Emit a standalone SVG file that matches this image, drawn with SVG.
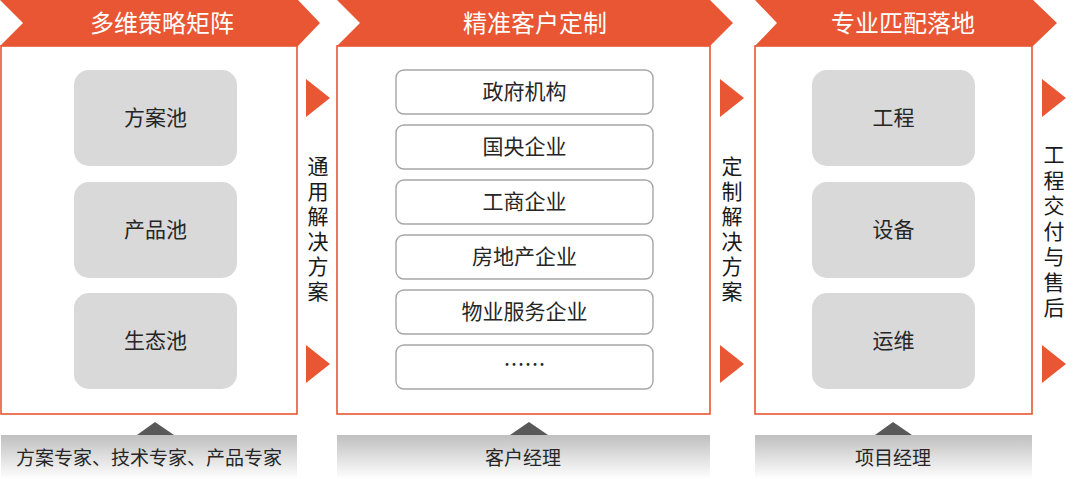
<svg xmlns="http://www.w3.org/2000/svg" width="1080" height="479" viewBox="0 0 1080 479">
<defs>
<linearGradient id="g" x1="0" y1="0" x2="0" y2="1">
<stop offset="0" stop-color="#bfbfbf"/>
<stop offset="1" stop-color="#ffffff"/>
</linearGradient>
<style>
.ban{fill:#E95633}
.box{fill:#fff;stroke:#E95633;stroke-width:1.6}
.gb{fill:#d9d9d9}
.lb{fill:#fff;stroke:#a6a6a6;stroke-width:1.4}
.tri{fill:#E95633}
.up{fill:#595959}
.bar{fill:url(#g)}
text{font-family:"Noto Sans CJK SC","Liberation Sans",sans-serif;text-anchor:middle;dominant-baseline:central}
.t{fill:#fff;font-size:24px}
.n{fill:#262626;font-size:21px}
.v{fill:#1a1a1a;font-size:21px;writing-mode:vertical-rl}
.b{fill:#262626;font-size:19px}
</style>
</defs>
<g id="col1">
<polygon class="ban" points="0,0 298,0 320,23 298,46 0,46 23,23"/>
<text class="t" x="162" y="21">多维策略矩阵</text>
<rect class="box" x="1" y="46" width="296" height="368"/>
</g>
<g id="col2">
<polygon class="ban" points="337,0 710,0 733,23 710,46 337,46 360,23"/>
<text class="t" x="535" y="21">精准客户定制</text>
<rect class="box" x="337" y="46" width="373" height="368"/>
</g>
<g id="col3">
<polygon class="ban" points="755,0 1033,0 1057,23 1033,46 755,46 777,23"/>
<text class="t" x="903" y="21">专业匹配落地</text>
<rect class="box" x="755" y="46" width="277" height="368"/>
</g>
<g id="n-fangan"><rect class="gb" x="74" y="70" width="163" height="96" rx="15"/><text class="n" x="155.5" y="116">方案池</text></g>
<g id="n-chanpin"><rect class="gb" x="74" y="182" width="163" height="96" rx="15"/><text class="n" x="155.5" y="228">产品池</text></g>
<g id="n-shengtai"><rect class="gb" x="74" y="293" width="163" height="96" rx="15"/><text class="n" x="155.5" y="339">生态池</text></g>
<g id="n-zhengfu"><rect class="lb" x="396" y="70" width="257" height="44" rx="8"/><text class="n" x="524.5" y="90">政府机构</text></g>
<g id="n-guoyang"><rect class="lb" x="396" y="125" width="257" height="44" rx="8"/><text class="n" x="524.5" y="145">国央企业</text></g>
<g id="n-gongshang"><rect class="lb" x="396" y="180" width="257" height="44" rx="8"/><text class="n" x="524.5" y="200">工商企业</text></g>
<g id="n-fangdichan"><rect class="lb" x="396" y="235" width="257" height="44" rx="8"/><text class="n" x="524.5" y="255">房地产企业</text></g>
<g id="n-wuye"><rect class="lb" x="396" y="290" width="257" height="44" rx="8"/><text class="n" x="524.5" y="310">物业服务企业</text></g>
<g id="n-more"><rect class="lb" x="396" y="345" width="257" height="44" rx="8"/><text class="n" x="524.5" y="363">……</text></g>
<g id="n-gongcheng"><rect class="gb" x="812" y="70" width="163" height="96" rx="15"/><text class="n" x="893.5" y="116">工程</text></g>
<g id="n-shebei"><rect class="gb" x="812" y="182" width="163" height="96" rx="15"/><text class="n" x="893.5" y="228">设备</text></g>
<g id="n-yunwei"><rect class="gb" x="812" y="293" width="163" height="96" rx="15"/><text class="n" x="893.5" y="339">运维</text></g>
<g id="connectors">
<polygon class="tri" points="306,79 330,98 306,117"/>
<polygon class="tri" points="306,345 330,364 306,383"/>
<polygon class="tri" points="720,79 744,98 720,117"/>
<polygon class="tri" points="720,345 744,364 720,383"/>
<polygon class="tri" points="1042,79 1066,98 1042,117"/>
<polygon class="tri" points="1042,345 1066,364 1042,383"/>
<polygon class="up" points="137,435 155,422 174,435"/>
<polygon class="up" points="510,435 529,422 548,435"/>
<polygon class="up" points="875,435 893,422 912,435"/>
</g>
<g id="label1"><text class="v" x="318" y="231" letter-spacing="4">通用解决方案</text></g>
<g id="label2"><text class="v" x="732" y="231" letter-spacing="4">定制解决方案</text></g>
<g id="label3"><text class="v" x="1054" y="233" letter-spacing="4.5">工程交付与售后</text></g>
<g id="bar1"><rect class="bar" x="1" y="435" width="296" height="44"/><text class="b" x="149" y="456">方案专家、技术专家、产品专家</text></g>
<g id="bar2"><rect class="bar" x="337" y="435" width="373" height="44"/><text class="b" x="523" y="456">客户经理</text></g>
<g id="bar3"><rect class="bar" x="755" y="435" width="277" height="44"/><text class="b" x="893" y="456">项目经理</text></g>
</svg>
